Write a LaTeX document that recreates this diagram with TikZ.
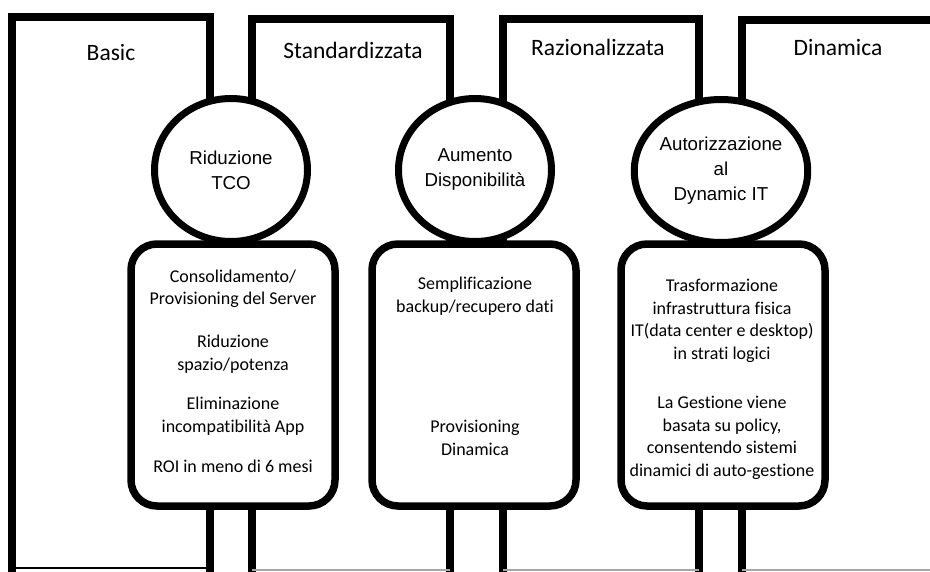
\documentclass[tikz,border=0pt]{standalone}
\usepackage{fontspec}
\setmainfont{Carlito}[Ligatures=NoCommon]
\newfontfamily\arialfont{Liberation Sans}
\usetikzlibrary{shapes.geometric}

\begin{document}
\begin{tikzpicture}[x=1pt, y=-1pt,
  frame/.style={line width=7.5pt, line join=miter},
  floor/.style={line width=1.2pt, black!35},
  goal/.style={ellipse, draw, fill=white, line width=7pt, minimum width=153pt,
    minimum height=143pt, inner sep=0pt, align=center,
    font=\arialfont\fontsize{18.7}{25}\selectfont},
  card/.style={draw, fill=white, line width=7.5pt, rounded corners=26pt,
    minimum width=204pt, minimum height=262pt},
  head/.style={font=\fontsize{23.5}{27}\selectfont},
  item/.style={align=center, font=\fontsize{18}{22.5}\selectfont}]
  \useasboundingbox (0,0) rectangle (930,571);

  % 1) Column frames
  \draw[frame] (12,575) -- (12,17) -- (210,17) -- (210,575);
  \draw[black, line width=2pt] (12,568) -- (210,568);
  \draw[frame] (252,575) -- (252,19) -- (450,19) -- (450,575);
  \draw[floor] (252,570) -- (450,570);
  \draw[frame] (503,575) -- (503,19) -- (699,19) -- (699,575);
  \draw[floor] (503,570) -- (699,570);
  \draw[frame] (742,575) -- (742,20) -- (935,20);
  \draw[floor] (742,570) -- (930,570);

  \node[head] (basic) at (111,52) {Basic};
  \node[head] (std) at (353,50) {Standardizzata};
  \node[head] (rat) at (598,47) {Razionalizzata};
  \node[head] (dyn) at (838,47) {Dinamica};

  % 2) Cards under the goals
  \node[card] (card1) at (233,375) {};
  \node[card] (card2) at (474,375) {};
  \node[card] (card3) at (723,375) {};

  % 3) Goals
  \node[goal] (goal1) at (231,170) {Riduzione\\TCO};
  \node[goal] (goal2) at (475,170) {Aumento\\Disponibilità};
  \node[goal] (goal3) at (721,171) {Autorizzazione\\al\\Dynamic IT};

  % 4) Card texts
  \node[item] (cons) at (233,289) {Consolidamento/\\Provisioning del Server};
  \node[item] (space) at (233,354) {Riduzione\\spazio/potenza};
  \node[item] (elim) at (233,416) {Eliminazione\\incompatibilità App};
  \node[item] (roi) at (233,466) {ROI in meno di 6 mesi};

  \node[item] (backup) at (475,296) {Semplificazione\\backup/recupero dati};
  \node[item] (prov) at (475,438) {Provisioning\\Dinamica};

  \node[item] (trans) at (722,321) {Trasformazione\\infrastruttura fisica\\IT(data center e desktop)\\in strati logici};
  \node[item] (mgmt) at (722,438) {La Gestione viene\\basata su policy,\\consentendo sistemi\\dinamici di auto-gestione};
\end{tikzpicture}
\end{document}
